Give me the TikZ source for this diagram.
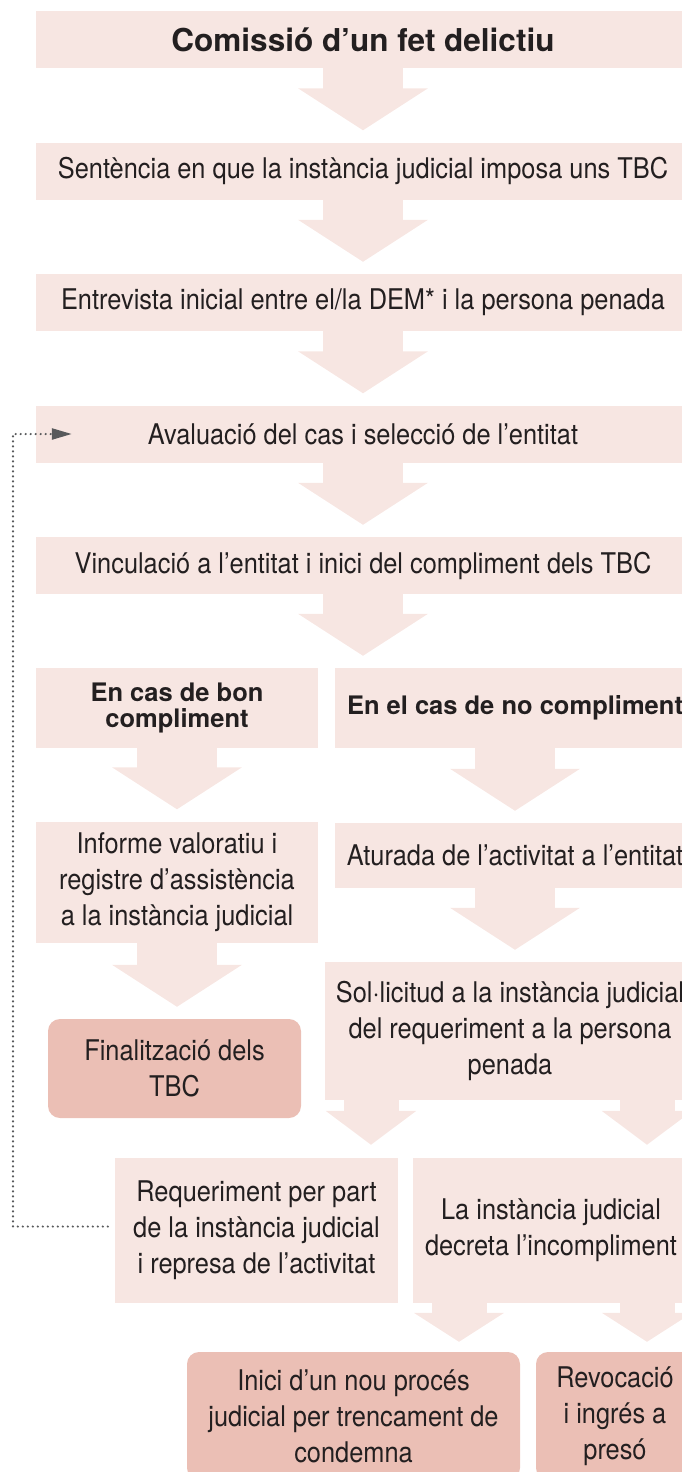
\documentclass[tikz,border=0pt]{standalone}
\usepackage{fontspec}
\setmainfont{TeX Gyre Heros}[FakeStretch=0.89]
\newfontfamily\headfont{TeX Gyre Heros}
\usetikzlibrary{arrows.meta}
\definecolor{boxpink}{HTML}{F7E6E2}
\definecolor{endpink}{HTML}{EBBFB5}
\definecolor{inkgray}{HTML}{231F20}
\definecolor{loopgray}{HTML}{58595B}

\begin{document}
\begin{tikzpicture}[x=1pt, y=-1pt,
    stepbox/.style={fill=boxpink, inner sep=0pt, align=center, text=inkgray, font=\fontsize{28.5}{36}\selectfont},
    endbox/.style={stepbox, fill=endpink, rounded corners=12pt},
    headbox/.style={stepbox, font=\headfont\bfseries\fontsize{25.5}{26}\selectfont},
    bigarrow/.style={draw=boxpink, line width=80pt, -{Triangle[width=128pt, length=42pt]}, shorten >=12pt},
    smallarrow/.style={draw=boxpink, line width=55pt, -{Triangle[width=89pt, length=#1]}},
    loopback/.style={draw=loopgray, line width=2.4pt, dash pattern=on 0pt off 5pt, line cap=round, -{Triangle[length=20pt, width=11pt]}}]
        \useasboundingbox (0,0) rectangle (682,1472);

        % Main sequence
        \node[stepbox, font=\headfont\bfseries\fontsize{31.5}{36}\selectfont, minimum width=654pt, minimum height=57pt] (crime) at (363,39.5) {Comissió d’un fet delictiu};
        \node[stepbox, minimum width=654pt, minimum height=57pt] (sentence) at (363,171) {Sentència en que la instància judicial imposa uns TBC};
        \node[stepbox, minimum width=654pt, minimum height=57pt] (interview) at (363,302.5) {Entrevista inicial entre el/la DEM* i la persona penada};
        \node[stepbox, minimum width=654pt, minimum height=57pt] (assess) at (363,434) {Avaluació del cas i selecció de l’entitat};
        \node[stepbox, minimum width=654pt, minimum height=57pt] (link) at (363,565.5) {Vinculació a l’entitat i inici del compliment dels TBC};

        % Good compliance
        \node[headbox, minimum width=282pt, minimum height=80pt] (good) at (177,708) {En cas de bon\\compliment};
        \node[stepbox, minimum width=282pt, minimum height=121pt] (report) at (177,882) {Informe valoratiu i\\registre d’assistència\\a la instància judicial};
        \node[endbox, minimum width=253pt, minimum height=99pt] (finish) at (174.5,1068.5) {Finalització dels\\TBC};

        % No compliance
        \node[headbox, minimum width=360pt, minimum height=80pt] (nocomp) at (515,708) {En el cas de no compliment};
        \node[stepbox, minimum width=360pt, minimum height=65pt] (halt) at (515,855.5) {Aturada de l’activitat a l’entitat};
        \node[stepbox, minimum width=370pt, minimum height=138pt] (request) at (510,1031) {Sol·licitud a la instància judicial\\del requeriment a la persona\\penada};
        \node[stepbox, minimum width=283pt, minimum height=145pt] (summons) at (256.5,1230.5) {Requeriment per part\\de la instància judicial\\i represa de l’activitat};
        \node[stepbox, minimum width=276pt, minimum height=145pt] (breach) at (551,1230.5) {La instància judicial\\decreta l’incompliment};
        \node[endbox, minimum width=333pt, minimum height=128pt] (newcase) at (353.5,1416) {Inici d’un nou procés\\judicial per trencament de\\condemna};
        \node[endbox, minimum width=158pt, minimum height=128pt] (prison) at (615,1416) {Revocació\\i ingrés a\\presó};

        % Arrows main sequence
        \draw[bigarrow] (crime.south) -- (sentence.north);
        \draw[bigarrow] (sentence.south) -- (interview.north);
        \draw[bigarrow] (interview.south) -- (assess.north);
        \draw[bigarrow] (assess.south) -- (link.north);
        \draw[bigarrow] (link.south) -- (link.south |- nocomp.north);

        % Arrows branches
        \draw[bigarrow] (good.south) -- (report.north);
        \draw[bigarrow] (report.south) -- (report.south |- finish.north);
        \draw[bigarrow] (nocomp.south) -- (halt.north);
        \draw[bigarrow] (halt.south) -- (halt.south |- request.north);
        \draw[smallarrow=34pt, shorten >=13pt] ([xshift=-139pt]request.south) -- ([xshift=-139pt]request.south |- summons.north);
        \draw[smallarrow=34pt, shorten >=13pt] ([xshift=137pt]request.south) -- ([xshift=137pt]request.south |- breach.north);
        \draw[smallarrow=29pt, shorten >=10pt] ([xshift=-92pt]breach.south) -- ([xshift=-92pt]breach.south |- newcase.north);
        \draw[smallarrow=29pt, shorten >=10pt] ([xshift=96pt]breach.south) -- ([xshift=96pt]breach.south |- prison.north);

        % Back to assessment
        \coordinate (loop) at (13,434);
        \draw[loopback] ([xshift=-7pt, yshift=4pt]summons.west) -| (loop) -- ([xshift=36pt]assess.west);
    \end{tikzpicture}
\end{document}
